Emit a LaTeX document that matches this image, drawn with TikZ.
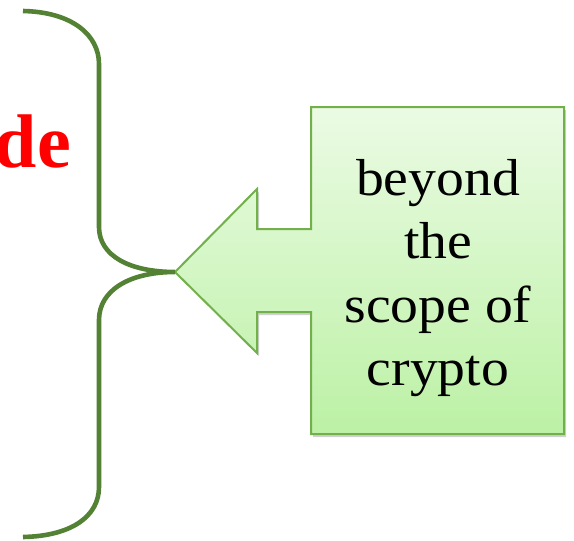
\documentclass[tikz,border=0pt]{standalone}
\usepackage{fontspec}
\setmainfont{Liberation Serif}
\newfontfamily\calloutfont{Liberation Serif}[FakeStretch=1.07]
\usetikzlibrary{calc}

\definecolor{braceGreen}{HTML}{548235}
\definecolor{calloutEdge}{HTML}{71B04A}
\definecolor{calloutTop}{HTML}{EBFBE4}
\definecolor{calloutBottom}{HTML}{BCF1A5}
\definecolor{wordRed}{HTML}{FF0000}

\tikzset{
  bracestroke/.style={draw=braceGreen, line width=4.6pt, line cap=butt},
  calloutbody/.style={draw=calloutEdge, line width=2pt, line join=miter,
    top color=calloutTop, bottom color=calloutBottom},
  calloutshadow/.style={fill=black, opacity=0.18},
  calloutline/.style={font=\calloutfont\fontsize{52}{63}\selectfont,
    anchor=base, inner sep=0pt, text=black},
  redword/.style={font=\bfseries\fontsize{76}{80}\selectfont, text=wordRed,
    anchor=base east, inner sep=0pt}
}

\begin{document}
\begin{tikzpicture}[x=1pt, y=-1pt]
  \useasboundingbox (0,0) rectangle (574,541);
  \clip (0,0) rectangle (574,541);

  % cut-off heading on the left
  \node[redword] (word) at (71,167) {de};

  % callout: box with a left-pointing arrow
  \coordinate (tip) at (175,272);
  \def\calloutpath{(tip) -- (257,189) -- (257,229) -- (311,229) -- (311,107)
    -- (564,107) -- (564,434) -- (311,434) -- (311,312) -- (257,312)
    -- (257,353) -- cycle}
  \begin{scope}[shift={(2,3)}]
    \path[calloutshadow] \calloutpath;
  \end{scope}
  \path[calloutbody] \calloutpath;

  \node[calloutline] (l1) at (438,195) {beyond};
  \node[calloutline] (l2) at (438,258) {the};
  \node[calloutline] (l3) at (438,322) {scope of};
  \node[calloutline] (l4) at (438,385) {crypto};

  % curly brace whose middle point meets the callout tip
  \coordinate (braceTop) at (23,11);
  \coordinate (braceBottom) at (23,537);
  \draw[bracestroke] (braceTop) .. controls (72,12) and (99,35) .. (99,64)
    -- (99,227) .. controls (99,256) and (130,272) .. (tip)
    .. controls (130,272) and (99,290) .. (99,320)
    -- (99,487) .. controls (99,516) and (72,536) .. (braceBottom);
\end{tikzpicture}
\end{document}
